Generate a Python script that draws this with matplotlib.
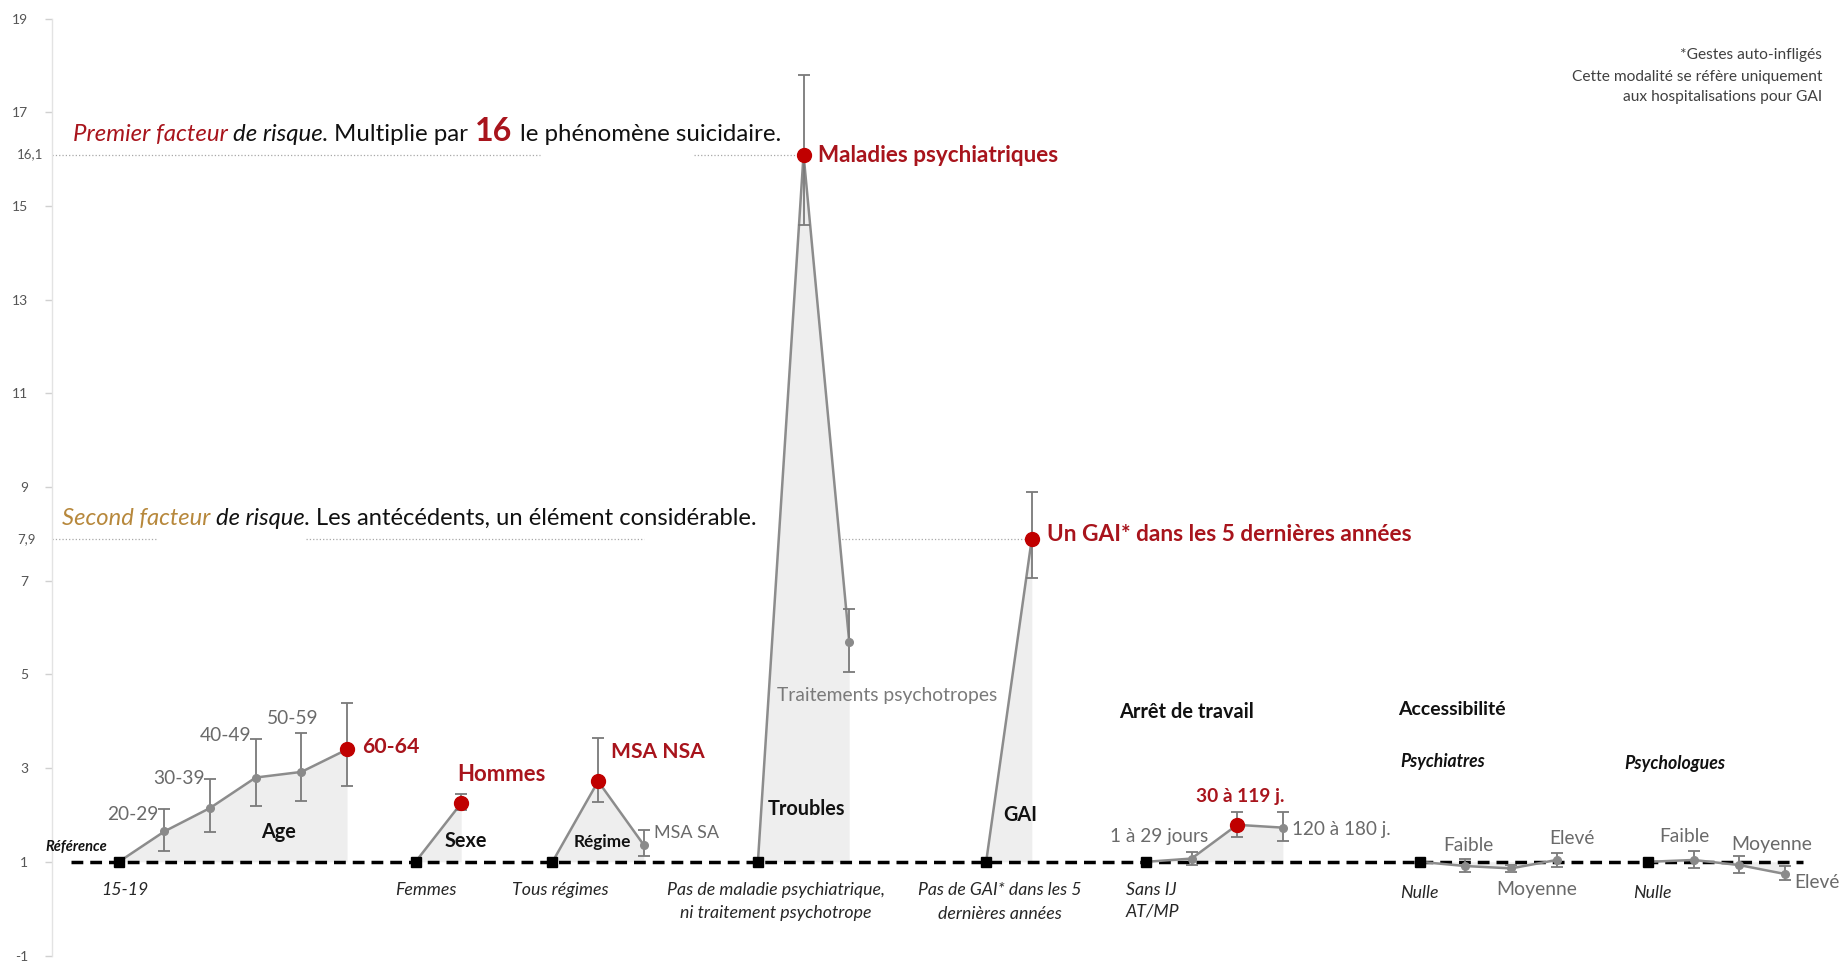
import matplotlib
matplotlib.use('Agg')
import matplotlib.pyplot as plt
from matplotlib.transforms import blended_transform_factory
import numpy as np

W, H = 1845, 963
plt.rcParams['font.family'] = ['Lato', 'DejaVu Sans']
nan = np.nan

# ---------------- data (odds ratios, CI) ----------------
age_cats = ['15-19', '20-29', '30-39', '40-49', '50-59', '60-64']
age_or = [1.0, 1.65, 2.15, 2.80, 2.92, 3.40]
age_lo = [nan, 1.23, 1.64, 2.20, 2.30, 2.62]
age_hi = [nan, 2.13, 2.77, 3.62, 3.76, 4.40]

sexe_cats = ['Femmes', 'Hommes']
sexe_or = [1.0, 2.25]
sexe_lo = [nan, 2.10]
sexe_hi = [nan, 2.44]

regime_cats = ['Tous régimes', 'MSA NSA', 'MSA SA']
regime_or = [1.0, 2.72, 1.36]
regime_lo = [nan, 2.28, 1.12]
regime_hi = [nan, 3.64, 1.68]

troubles_cats = ['Pas de maladie psychiatrique, ni traitement psychotrope',
                 'Maladies psychiatriques', 'Traitements psychotropes']
troubles_or = [1.0, 16.1, 5.7]
troubles_lo = [nan, 14.6, 5.05]
troubles_hi = [nan, 17.8, 6.40]

gai_cats = ['Pas de GAI* dans les 5 dernières années', 'Un GAI* dans les 5 dernières années']
gai_or = [1.0, 7.9]
gai_lo = [nan, 7.05]
gai_hi = [nan, 8.90]

arret_cats = ['Sans IJ AT/MP', '1 à 29 jours', '30 à 119 j.', '120 à 180 j.']
arret_or = [1.0, 1.07, 1.79, 1.73]
arret_lo = [nan, 0.93, 1.52, 1.45]
arret_hi = [nan, 1.22, 2.07, 2.06]

psychiatres_cats = ['Nulle', 'Faible', 'Moyenne', 'Elevé']
psychiatres_or = [1.0, 0.91, 0.86, 1.04]
psychiatres_lo = [nan, 0.79, 0.79, 0.90]
psychiatres_hi = [nan, 1.06, 0.93, 1.18]

psychologues_cats = ['Nulle', 'Faible', 'Moyenne', 'Elevé']
psychologues_or = [1.0, 1.04, 0.93, 0.74]
psychologues_lo = [nan, 0.86, 0.77, 0.61]
psychologues_hi = [nan, 1.24, 1.12, 0.92]

ytick_vals = [19, 17, 15, 13, 11, 9, 7, 5, 3, 1, -1]
highlight_vals = [16.1, 7.9]
highlight_labels = ['16,1', '7,9']

# ---------------- styles ----------------
RED_TXT = '#a8141c'
RED_MK = '#c00000'
GOLD = '#b7883c'
GRAY_TXT = '#6a6a6a'
LINE = '#8c8c8c'
FILL = '#eeeeee'

groups = [
    # (values, lo, hi, start slot, highlighted index)
    (age_or, age_lo, age_hi, 0.0, 5),
    (sexe_or, sexe_lo, sexe_hi, 6.5, 1),
    (regime_or, regime_lo, regime_hi, 9.5, 1),
    (troubles_or, troubles_lo, troubles_hi, 14.0, 1),
    (gai_or, gai_lo, gai_hi, 19.0, 1),
    (arret_or, arret_lo, arret_hi, 22.5, 2),
    (psychiatres_or, psychiatres_lo, psychiatres_hi, 28.5, None),
    (psychologues_or, psychologues_lo, psychologues_hi, 33.5, None),
]

fig = plt.figure(figsize=(W / 100, H / 100), dpi=100)
left_px, x0_px, slot_px = 52, 118.8, 45.65
ax = fig.add_axes([left_px / W, (H - 955.5) / H, 1 - left_px / W, (955.5 - 18.8) / H])
ax.set_xlim((left_px - x0_px) / slot_px, (W - x0_px) / slot_px)
ax.set_ylim(-1, 19)
for s in ['top', 'right', 'bottom']:
    ax.spines[s].set_visible(False)
ax.spines['left'].set_color('#e3e3e3')
ax.spines['left'].set_linewidth(1.0)
ax.set_xticks([])
ax.set_yticks(ytick_vals)
ax.set_yticklabels([str(v) for v in ytick_vals])
ax.tick_params(axis='y', colors='#d0d0d0', labelcolor='#555555', labelsize=10,
               length=5, width=1, pad=12)

# reference line at OR = 1
ax.hlines(1, -1.05, 36.9, colors='black', linestyles=(0, (3.4, 2.0)), lw=2.5, zorder=2.5)

# dotted guide lines for the two highlighted values
xl = ax.get_xlim()[0]
seg16 = [(xl, 9.23), (12.6, 15.0)]
seg79 = [(xl, 0.85), (4.1, 11.5), (14.75, 20.0)]
for v, segs in zip(highlight_vals, [seg16, seg79]):
    for a, b in segs:
        ax.hlines(v, a, b, colors='#a8a8a8', linestyles=':', lw=0.9, zorder=1)
bt = blended_transform_factory(fig.transFigure, ax.transData)
for v, lab in zip(highlight_vals, highlight_labels):
    ax.text(17 / W, v, lab, transform=bt, ha='left', va='center', fontsize=9.5, color='#555555')

for vals, lo, hi, start, hl in groups:
    xs = start + np.arange(len(vals))
    v = np.array(vals)
    ax.fill_between(xs, v, 1, color=FILL, lw=0, zorder=1)
    ax.plot(xs, v, color=LINE, lw=1.8, zorder=3, solid_capstyle='round')
    lo_a, hi_a = np.array(lo), np.array(hi)
    m = ~np.isnan(lo_a)
    ax.errorbar(xs[m], v[m], yerr=[v[m] - lo_a[m], hi_a[m] - v[m]], fmt='none',
                ecolor='#7a7a7a', elinewidth=1.3, capsize=4, capthick=1.3, zorder=4)
    ax.plot(xs[:1], v[:1], 's', color='black', ms=6.5, zorder=6)
    others = [i for i in range(1, len(v)) if i != hl]
    ax.plot(xs[others], v[others], 'o', color='#8a8a8a', ms=5.5, zorder=5)
    if hl is not None:
        ax.plot(xs[hl:hl + 1], v[hl:hl + 1], 'o', color=RED_MK, ms=10, zorder=6)

# ---------------- text helpers (pixel positions, from top-left) ----------------
renderer = fig.canvas.get_renderer()


def fx(x):
    return x / W


def fy(y):
    return 1 - y / H


labels = []


def put(cls, x, y, s, w=None, ha='left', size=12, **kw):
    t = fig.text(fx(x), fy(y), s, ha=ha, va='center_baseline', fontsize=size, **kw)
    if w:
        ww = t.get_window_extent(renderer).width
        t.set_fontsize(size * w / ww)
    labels.append((cls, t, w))
    return t


def finish_classes():
    sizes = {}
    for cls, t, w in labels:
        if w:
            sizes.setdefault(cls, []).append(t.get_fontsize())
    for cls, t, w in labels:
        if not w and cls in sizes:
            t.set_fontsize(float(np.median(sizes[cls])))


def rich(xleft, ybase, pieces, width):
    texts = []
    for s, kw, sp in pieces:
        t = fig.text(0, 0, s, ha='left', va='baseline', **kw)
        texts.append((t, sp))

    def space_w(t):
        a = fig.text(0, 0, 'x x', fontproperties=t.get_fontproperties())
        b = fig.text(0, 0, 'xx', fontproperties=t.get_fontproperties())
        d = a.get_window_extent(renderer).width - b.get_window_extent(renderer).width
        a.remove(); b.remove()
        return d

    def layout():
        x = xleft
        for t, sp in texts:
            t.set_position((fx(x), fy(ybase)))
            x += t.get_window_extent(renderer).width
            if sp:
                x += space_w(t)
        return x - xleft

    tot = layout()
    f = width / tot
    for t, sp in texts:
        t.set_fontsize(t.get_fontsize() * f)
    layout()


# headline texts
rich(73, 141, [
    ('Premier facteur', dict(style='italic', color=RED_TXT, fontsize=15), True),
    ('de risque.', dict(style='italic', color='#111111', fontsize=15), True),
    ('Multiplie par', dict(color='#111111', fontsize=15), True),
    ('16', dict(color=RED_TXT, fontsize=20, fontweight='bold'), True),
    ('le phénomène suicidaire.', dict(color='#111111', fontsize=15), False),
], 708)
rich(62, 525, [
    ('Second facteur', dict(style='italic', color=GOLD, fontsize=15), True),
    ('de risque.', dict(style='italic', color='#111111', fontsize=15), True),
    ('Les antécédents, un élément considérable.', dict(color='#111111', fontsize=15), False),
], 698)

# red highlighted labels
put('red', 818, 154, 'Maladies psychiatriques', 240, fontweight='bold', color=RED_TXT)
put('red', 1047, 532, 'Un GAI* dans les 5 dernières années', 363, fontweight='bold', color=RED_TXT)
put('red', 362, 745, '60-64', 57, fontweight='bold', color=RED_TXT)
put('red', 457, 772, 'Hommes', 88, fontweight='bold', color=RED_TXT)
put('red', 611, 750, 'MSA NSA', 93, fontweight='bold', color=RED_TXT)
put('red2', 1196, 795, '30 à 119 j.', 88, fontweight='bold', color=RED_TXT)

# gray category labels
put('gray', 107, 813, '20-29', None, color=GRAY_TXT)
put('gray', 153, 777, '30-39', None, color=GRAY_TXT)
put('gray', 200, 734, '40-49', None, color=GRAY_TXT)
put('gray', 267, 717, '50-59', None, color=GRAY_TXT)
put('gray', 654, 831, 'MSA SA', 65, color=GRAY_TXT)
put('gray', 777, 694, 'Traitements psychotropes', 220, color='#7a7a7a')
put('gray', 1110, 835, '1 à 29 jours', 98, color=GRAY_TXT)
put('gray', 1292, 828, '120 à 180 j.', 98, color=GRAY_TXT)
put('gray', 1443, 844, 'Faible', None, color=GRAY_TXT)
put('gray', 1496, 888, 'Moyenne', 81, color=GRAY_TXT)
put('gray', 1549, 837, 'Elevé', None, color=GRAY_TXT)
put('gray', 1659, 835, 'Faible', None, color=GRAY_TXT)
put('gray', 1731, 843, 'Moyenne', 81, color=GRAY_TXT)
put('gray', 1794, 881, 'Elevé', None, color=GRAY_TXT)

# bold group labels
put('grp', 261, 830, 'Age', None, fontweight='bold', color='#111111')
put('grp', 445, 839, 'Sexe', None, fontweight='bold', color='#111111')
put('grp2', 574, 841, 'Régime', 57, fontweight='bold', color='#111111')
put('grp', 768, 807, 'Troubles', 77, fontweight='bold', color='#111111')
put('grp', 1003, 813, 'GAI', None, fontweight='bold', color='#111111')
put('grp', 1119, 710, 'Arrêt de travail', 134, fontweight='bold', color='#111111')
put('grp', 1398, 708, 'Accessibilité', 107, fontweight='bold', color='#111111')

put('sub', 1400, 760, 'Psychiatres', 85, fontweight='bold', style='italic', color='#111111')
put('sub', 1624, 762, 'Psychologues', 101, fontweight='bold', style='italic', color='#111111')
put('ref', 45, 845, 'Référence', 62, fontweight='bold', style='italic', color='#111111')

# reference (italic) labels
REFC = '#262626'
put('it', 101, 888, '15-19', None, style='italic', color=REFC)
put('it', 395, 888, 'Femmes', None, style='italic', color=REFC)
put('it', 512, 888, 'Tous régimes', 96, style='italic', color=REFC)
put('it', 776, 888, 'Pas de maladie psychiatrique,', 217, ha='center', style='italic', color=REFC)
put('it', 776, 911, 'ni traitement psychotrope', None, ha='center', style='italic', color=REFC)
put('it', 1000, 888, 'Pas de GAI* dans les 5', 163, ha='center', style='italic', color=REFC)
put('it', 1000, 912, 'dernières années', None, ha='center', style='italic', color=REFC)
put('it', 1126, 888, 'Sans IJ', None, style='italic', color=REFC)
put('it', 1126, 910, 'AT/MP', None, style='italic', color=REFC)
put('it', 1400, 892, 'Nulle', None, style='italic', color=REFC)
put('it', 1633, 892, 'Nulle', None, style='italic', color=REFC)

# footnote
put('foot', 1822, 54, '*Gestes auto-infligés', None, ha='right', color='#404040')
put('foot', 1822, 75, 'Cette modalité se réfère uniquement', 251, ha='right', color='#404040')
put('foot', 1822, 96, 'aux hospitalisations pour GAI', None, ha='right', color='#404040')

finish_classes()

fig.savefig('out.png', dpi=100, facecolor='white')
